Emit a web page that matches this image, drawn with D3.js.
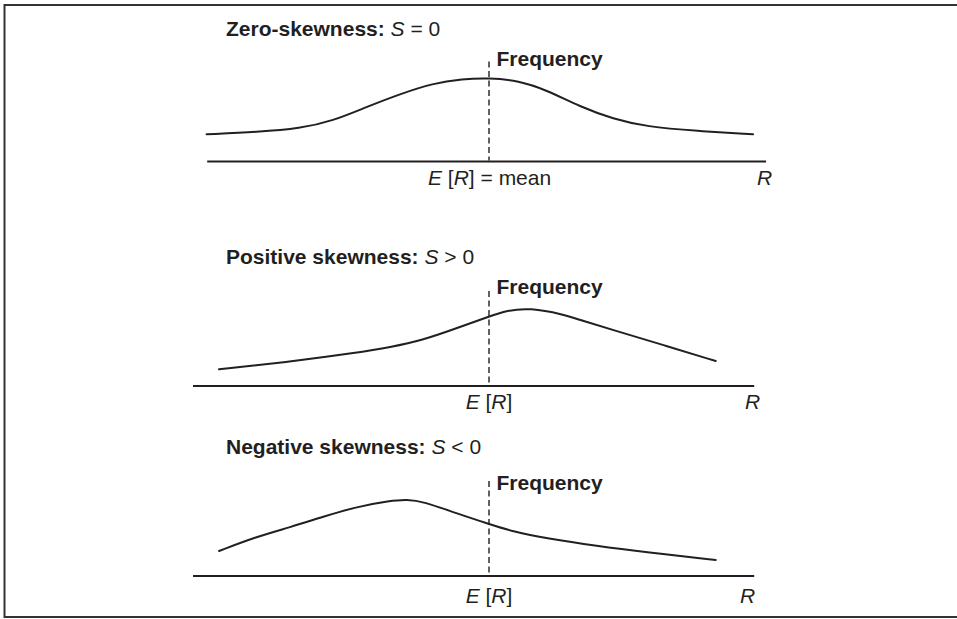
<!DOCTYPE html>
<html>
<head>
<meta charset="utf-8">
<script src="https://cdn.jsdelivr.net/npm/d3@7"></script>
<style>
  html, body { margin: 0; padding: 0; background: #fff; }
  svg { display: block; }
  text { font-family: "Liberation Sans", Arial, Helvetica, sans-serif; fill: #231f20; }
</style>
</head>
<body>
<svg id="chart" width="957" height="619"></svg>
<script>
// ---- data (return R relative to mean E[R] = 0; frequency in arbitrary units) ----
const panelTitles = ["Zero-skewness:", "Positive skewness:", "Negative skewness:"];
const panelSigns = ["=", ">", "<"];
const meanLabels = ["E [R] = mean", "E [R]", "E [R]"];

const zeroSkewR    = [-4.77, -3.90, -3.19, -2.64, -2.07, -1.50, -0.95, -0.45, 0, 0.50, 0.97, 1.54, 2.10, 2.66, 3.51, 4.46];
const zeroSkewFreq = [0.272, 0.295, 0.330, 0.405, 0.545, 0.675, 0.782, 0.825, 0.835, 0.808, 0.715, 0.548, 0.425, 0.348, 0.305, 0.272];

const posSkewR    = [-4.56, -3.36, -2.23, -1.67, -1.11, -0.55, 0, 0.30, 0.69, 1.26, 1.54, 2.10, 2.94, 3.83];
const posSkewFreq = [0.167, 0.243, 0.333, 0.387, 0.460, 0.577, 0.695, 0.755, 0.782, 0.715, 0.660, 0.560, 0.410, 0.250];

const negSkewR    = [-4.56, -3.93, -3.36, -2.80, -2.23, -1.67, -1.39, -1.11, -0.55, 0, 0.41, 0.97, 1.82, 2.66, 3.83];
const negSkewFreq = [0.250, 0.393, 0.487, 0.593, 0.693, 0.752, 0.765, 0.745, 0.627, 0.520, 0.443, 0.377, 0.300, 0.237, 0.160];

const axisExtents = [[-4.76, 4.68], [-5.0, 4.48], [-5.0, 4.48]];
const dashTops = [1.0, 0.95, 0.95];

// ---- layout ----
const svg = d3.select("#chart");
const ink = "#231f20";

svg.append("path")
  .attr("d", "M957,5 H4.5 V617 H957")
  .attr("fill", "none").attr("stroke", "#333").attr("stroke-width", 2);

const x = d3.scaleLinear().domain([-5, 5]).range([193, 785]);

const panels = [
  { r: zeroSkewR, f: zeroSkewFreq, axisY: 161.5, titleY: 35.7, freqY: 66, labelY: 184.5, rX: 757 },
  { r: posSkewR,  f: posSkewFreq,  axisY: 386,   titleY: 264.3, freqY: 294.3, labelY: 408.5, rX: 745 },
  { r: negSkewR,  f: negSkewFreq,  axisY: 576,   titleY: 454.3, freqY: 490, labelY: 603, rX: 740 }
];

const fs = 21;

panels.forEach((p, i) => {
  const y = d3.scaleLinear().domain([0, 1]).range([p.axisY, p.axisY - 100]);
  const g = svg.append("g");

  // axis line
  g.append("line")
    .attr("x1", x(axisExtents[i][0])).attr("x2", x(axisExtents[i][1]))
    .attr("y1", p.axisY).attr("y2", p.axisY)
    .attr("stroke", ink).attr("stroke-width", 2);

  // dashed mean line
  g.append("line")
    .attr("x1", x(0)).attr("x2", x(0))
    .attr("y1", y(dashTops[i])).attr("y2", p.axisY - 1)
    .attr("stroke", ink).attr("stroke-width", 1.4)
    .attr("stroke-dasharray", "6,3.5");

  // curve
  const pts = p.r.map((r, k) => [r, p.f[k]]);
  g.append("path")
    .datum(pts)
    .attr("fill", "none").attr("stroke", ink).attr("stroke-width", 2)
    .attr("stroke-linecap", "round")
    .attr("d", d3.line().x(d => x(d[0])).y(d => y(d[1])).curve(d3.curveBasis));

  // title
  const t = g.append("text").attr("x", 226).attr("y", p.titleY).attr("font-size", fs);
  t.append("tspan").attr("font-weight", "bold").text(panelTitles[i] + " ");
  t.append("tspan").attr("font-style", "italic").text("S");
  t.append("tspan").text(" " + panelSigns[i] + " 0");

  // frequency label
  g.append("text").attr("x", x(0) + 7.5).attr("y", p.freqY)
    .attr("font-size", fs).attr("font-weight", "bold").text("Frequency");

  // E[R] label
  const lab = g.append("text").attr("y", p.labelY).attr("font-size", fs);
  if (i === 0) lab.attr("x", 428); else lab.attr("x", x(0)).attr("text-anchor", "middle");
  lab.append("tspan").attr("font-style", "italic").text("E");
  lab.append("tspan").text(" [");
  lab.append("tspan").attr("font-style", "italic").text("R");
  lab.append("tspan").text(meanLabels[i].slice(4));

  // R label
  g.append("text").attr("x", p.rX).attr("y", p.labelY)
    .attr("font-size", fs).attr("font-style", "italic").text("R");
});
</script>
</body>
</html>
